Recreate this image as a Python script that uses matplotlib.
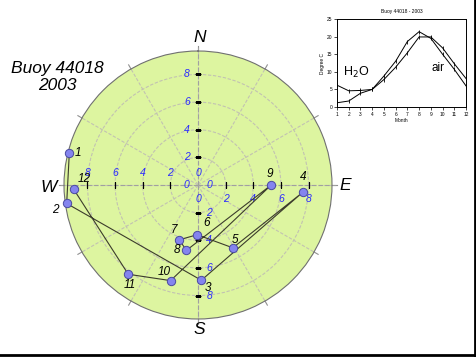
import numpy as np
import matplotlib.pyplot as plt
from matplotlib.lines import Line2D

plt.rcParams['font.family'] = ['Liberation Sans', 'DejaVu Sans']

# monthly mean wind, buoy 44018, 2003 (direction in degrees from N, speed)
months = [1, 2, 3, 4, 5, 6, 7, 8, 9, 10, 11, 12]
wind_dir = [284, 262, 178, 94, 151, 181, 199, 190, 90, 196, 218, 268]
wind_speed = [9.6, 9.6, 6.9, 7.6, 5.2, 3.6, 4.2, 4.8, 5.3, 7.2, 8.2, 9.0]

# monthly temperatures for the inset
water_temp = [6.2, 4.6, 4.7, 5.0, 7.8, 11.3, 15.4, 19.9, 19.9, 16.8, 12.3, 8.1]
air_temp = [1.2, 1.7, 3.9, 5.0, 8.8, 13.0, 18.6, 21.4, 19.5, 15.0, 10.7, 6.0]

ring_ticks = [0, 2, 4, 6, 8]
RMAX = 9.7
W, H = 476, 357


def px(x, y):
    # pixel position -> figure fraction
    return x / W, 1 - y / H


fig = plt.figure(figsize=(4.76, 3.57), dpi=100)

# ---- polar wind plot ----
ax = fig.add_axes([64 / W, 38 / H, 268 / W, 268 / H], projection='polar')
ax.set_theta_zero_location('N')
ax.set_theta_direction(-1)
ax.set_ylim(0, RMAX)
ax.set_facecolor('#ddf5a0')
ax.set_xticks(np.radians(np.arange(0, 360, 30)))
ax.set_xticklabels([])
ax.set_yticks(ring_ticks[1:])
ax.set_yticklabels([])
ax.grid(color='#c2c2b2', lw=0.8, ls=(0, (3, 1.5)))
ax.spines['polar'].set_color('#707070')
ax.spines['polar'].set_linewidth(0.8)

# small ticks just outside the rim
for a in range(0, 360, 30):
    ax.plot([np.radians(a)] * 2, [RMAX, RMAX * 1.035], color='#909090', lw=0.8, clip_on=False)

# compass axes with distance ticks and labels
axis_setup = [(0, '_', (-8, 0)), (180, '_', (8, 0)), (270, '|', (0, 8.6)), (90, '|', (0, -10))]
for ang, mk, off in axis_setup:
    th = np.radians(ang)
    ax.plot([th, th], [0, RMAX * 1.03], color='#a0a0a0', lw=0.8, ls=(0, (4, 2)), clip_on=False)
    ax.plot([th] * 4, ring_ticks[1:], ls='none', marker=mk, ms=4.5, mew=0.9, color='black', zorder=4)
    for r in ring_ticks:
        ax.annotate(str(r), (th, r), xytext=off, textcoords='offset points',
                    ha='center', va='center', fontsize=7.5, style='italic', color='#2a2aff')

ax.plot(np.radians(wind_dir), wind_speed, color='#3c3c2c', lw=0.8, marker='o', ms=6,
        mfc='#8484ee', mec='#4a4aa0', mew=0.7, clip_on=False, zorder=5)

label_offsets = [(9, 0), (-11, 7), (7, 8), (0, -15), (2, -8), (9, -12),
                 (-5, -10), (-10, 0), (-1, -11), (-6, -9), (1, 11), (10, -10)]
for m, d, s, (dx, dy) in zip(months, wind_dir, wind_speed, label_offsets):
    ax.annotate(str(m), (np.radians(d), s), xytext=(dx / 1.389, -dy / 1.389),
                textcoords='offset points', ha='center', va='center',
                fontsize=8.5, style='italic', color='black', zorder=6)

for lab, (x, y) in zip(['N', 'E', 'S', 'W'], [(200, 38), (345, 185), (199, 330), (49, 187)]):
    fig.text(*px(x, y), lab, ha='center', va='center', fontsize=12.5, style='italic')

fig.text(*px(57, 68), 'Buoy 44018', ha='center', va='center', fontsize=12.5, style='italic')
fig.text(*px(57, 86), '2003', ha='center', va='center', fontsize=12.5, style='italic')

# ---- inset: temperatures ----
ins = fig.add_axes([337 / W, 1 - 107 / H, 129 / W, 88 / H])
ins.plot(months, water_temp, color='black', lw=0.7, marker='|', ms=2.5, mew=0.6)
ins.plot(months, air_temp, color='black', lw=0.7, marker='|', ms=2.5, mew=0.6)
ins.set_xlim(1, 12)
ins.set_ylim(0, 25)
ins.set_xticks(months)
ins.set_yticks(range(0, 26, 5))
ins.tick_params(labelsize=3.5, length=2, width=0.5, pad=1.5)
for sp in ins.spines.values():
    sp.set_linewidth(0.7)
ins.set_title('Buoy 44018 - 2003', fontsize=3.5, pad=4)
ins.set_xlabel('Month', fontsize=3.5, labelpad=1)
ins.set_ylabel('Degree C', fontsize=3.5, labelpad=1)
ins.text(1.55, 9.7, 'H$_2$O', fontsize=9, va='center')
ins.text(9.1, 11.1, 'air', fontsize=8.5, va='center')

# frame on the right and bottom
fig.add_artist(Line2D([0.998, 0.998], [0, 1], transform=fig.transFigure, color='black', lw=2))
fig.add_artist(Line2D([0, 1], [0.005, 0.005], transform=fig.transFigure, color='black', lw=2))

fig.savefig('out.png', dpi=100)
